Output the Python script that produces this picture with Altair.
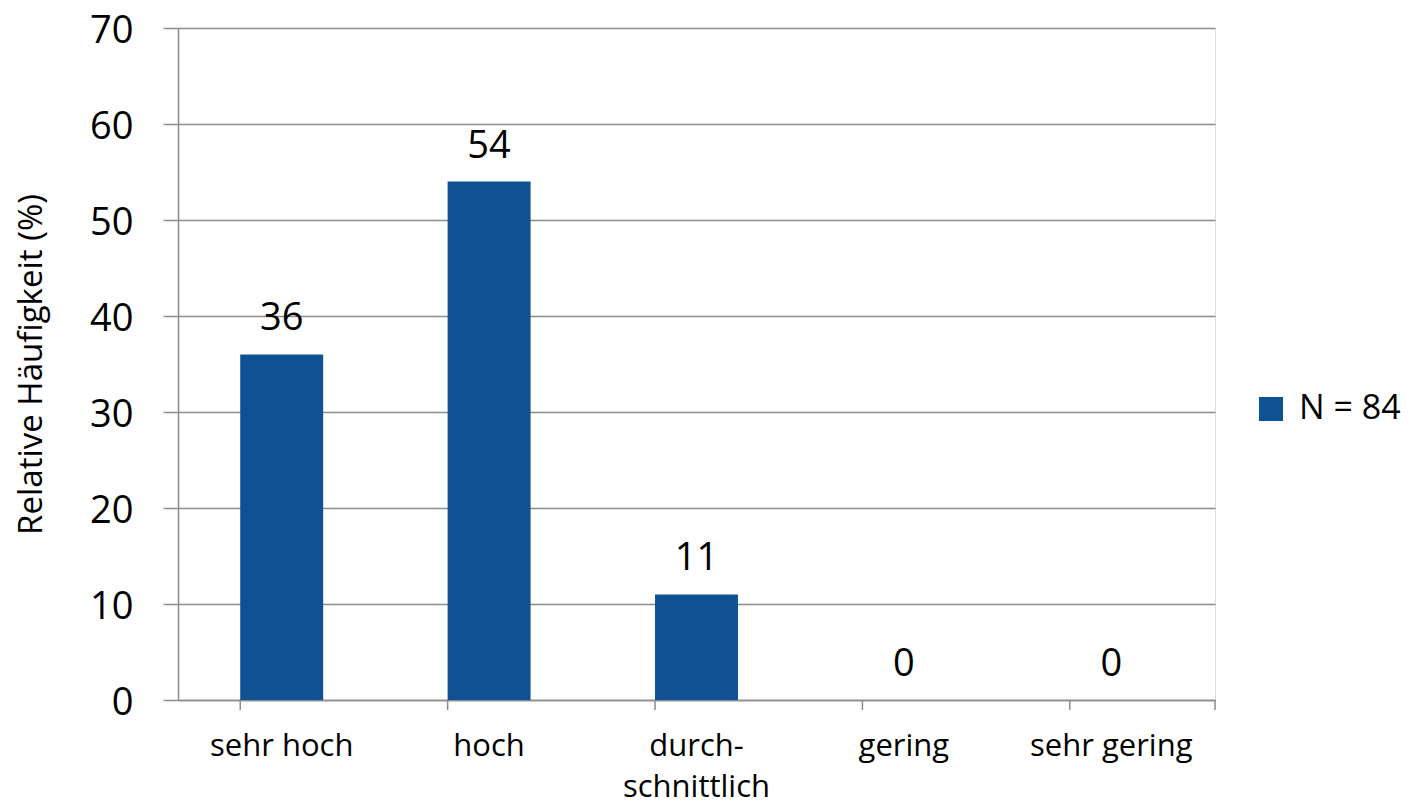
import altair as alt
import pandas as pd

categories = ["sehr hoch", "hoch", "durch-\nschnittlich", "gering", "sehr gering"]
values = [36, 54, 11, 0, 0]
series = "N = 84"
y_ticks = [0, 10, 20, 30, 40, 50, 60, 70]

df = pd.DataFrame({"cat": categories, "val": values, "series": [series] * len(categories)})

FONT = "Open Sans"
W, H = 1037, 672

x_enc = alt.X(
    "cat:N",
    sort=categories,
    scale=alt.Scale(paddingInner=0.6, paddingOuter=0.3),
    axis=alt.Axis(
        title=None,
        ticks=False,
        labelAngle=0,
        labelFont=FONT,
        labelFontSize=31,
        labelColor="black",
        labelPadding=31,
        labelLineHeight=41,
        labelBaseline="top",
        labelExpr="split(datum.label, '\\n')",
        domainColor="#8c8c8c",
        domainWidth=1.5,
    ),
)

y_enc = alt.Y(
    "val:Q",
    scale=alt.Scale(domain=[0, 70]),
    axis=alt.Axis(
        values=y_ticks,
        title="Relative Häufigkeit (%)",
        titleFont=FONT,
        titleFontSize=33,
        titleFontWeight="normal",
        titleColor="black",
        titleX=-147,
        titleY=H / 2,
        titleAngle=-90,
        titleAlign="center",
        titleBaseline="middle",
        labelFont=FONT,
        labelFontSize=38,
        labelColor="black",
        labelPadding=30,
        labelOffset=3,
        tickSize=15,
        tickColor="#8c8c8c",
        tickWidth=1.5,
        gridColor="#8c8c8c",
        gridWidth=1.5,
        domainColor="#8c8c8c",
        domainWidth=1.5,
    ),
)

bars = alt.Chart(df).mark_bar().encode(
    x=x_enc,
    y=y_enc,
    color=alt.Color(
        "series:N",
        scale=alt.Scale(range=["#0f5294"]),
        legend=alt.Legend(
            title=None,
            orient="none",
            legendX=1076,
            legendY=364,
            symbolType="square",
            symbolSize=576,
            symbolStrokeWidth=0,
            labelFont=FONT,
            labelFontSize=34,
            labelColor="black",
            labelOffset=11,
        ),
    ),
)

labels = alt.Chart(df).mark_text(
    font=FONT, fontSize=38, color="black", baseline="alphabetic", dy=-24
).encode(x=alt.X("cat:N", sort=categories), y="val:Q", text="val:Q")

ticks = alt.Chart(df).mark_rule(color="#8c8c8c", strokeWidth=1.5).encode(
    x=alt.X("cat:N", sort=categories, bandPosition=0),
    y=alt.value(H),
    y2=alt.value(H + 10),
)

last_tick = alt.Chart(df.head(1)).mark_rule(color="#8c8c8c", strokeWidth=1.5).encode(
    x=alt.value(W),
    y=alt.value(H),
    y2=alt.value(H + 10),
)

chart = (
    alt.layer(bars, labels, ticks, last_tick)
    .properties(
        width=W,
        height=H,
        autosize=alt.AutoSizeParams(type="none"),
        padding={"left": 170, "top": 20, "right": 187, "bottom": 100},
    )
    .configure_view(strokeWidth=0, stroke="transparent")
    .configure(background="white")
)

chart.save("out.html", embed_options={"renderer": "svg", "actions": False})
